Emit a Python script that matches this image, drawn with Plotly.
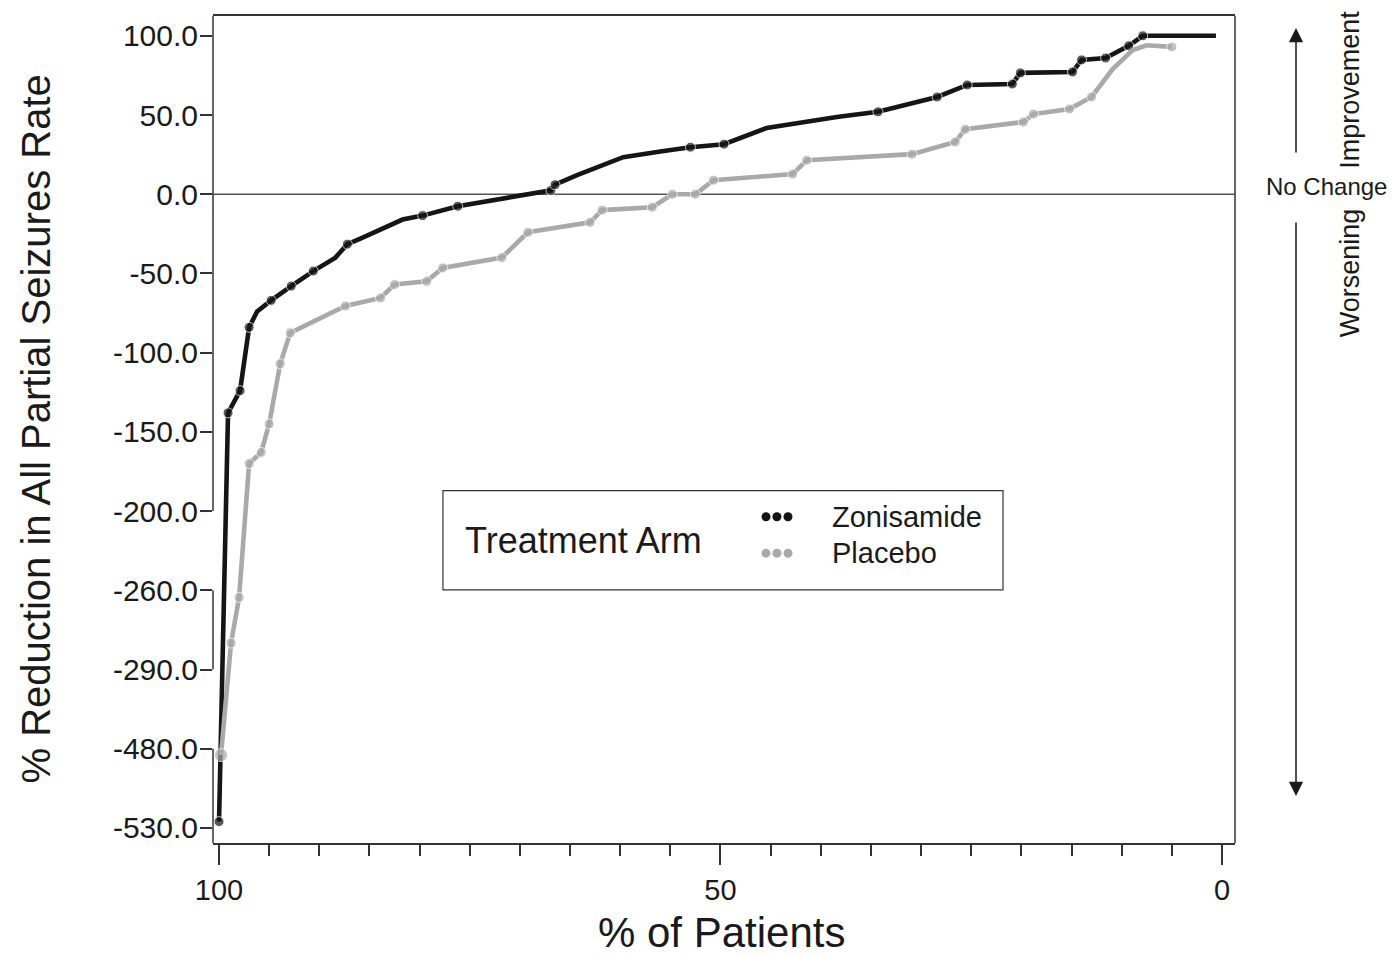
import numpy as np
import plotly.graph_objects as go

# ---------------- data ----------------
tick_values = [-530, -480, -290, -260, -200, -150, -100, -50, 0, 50, 100]
tick_labels = ["-530.0", "-480.0", "-290.0", "-260.0", "-200.0", "-150.0",
               "-100.0", "-50.0", "0.0", "50.0", "100.0"]

zon_x = [100, 99.1, 97.9, 97.0, 96.2, 94.8, 92.8, 90.6, 88.4, 87.2, 85.9, 81.7,
         79.7, 76.2, 66.9, 66.5, 64.3, 59.7, 56.0, 53.0, 49.65, 45.4, 38.4, 34.3,
         28.4, 25.4, 20.9, 20.1, 14.9, 14.0, 11.6, 9.3, 7.9, 0.6]
zon_y = [-526, -138, -124, -84, -74, -67, -58, -48.5, -40, -31.5, -28, -16,
         -13.5, -7.6, 2.5, 6, 12, 23.4, 27, 29.7, 31.6, 41.8, 48.7, 52,
         61.4, 69, 69.6, 76.6, 77.2, 84.8, 86, 93.7, 100, 100]
zon_marked = [1, 1, 1, 1, 0, 1, 1, 1, 0, 1, 0, 0, 1, 1, 1, 1, 0, 0, 0, 1, 1, 0, 0, 1,
              1, 1, 1, 1, 1, 1, 1, 1, 1, 0]

pl_x = [99.8, 98.8, 98.0, 97.0, 95.8, 95.0, 93.9, 92.9, 87.4, 83.9, 82.5, 79.3,
        77.7, 71.8, 69.2, 63.0, 61.8, 56.8, 54.8, 52.5, 50.7, 42.8, 41.4, 30.9,
        26.6, 25.6, 19.8, 18.8, 15.2, 13.0, 10.9, 8.9, 7.5, 5.0]
pl_y = [-484, -280, -262.7, -170, -163, -145, -107, -87.5, -70.5, -65.5, -57, -55,
        -46.5, -40, -24, -17.7, -10, -8.2, 0, 0, 8.9, 12.7, 21.5, 25.3,
        33, 41, 45.6, 50.6, 53.8, 61.4, 79, 91, 94, 93]
pl_marked = [1] * 30 + [0, 0, 0, 1]

series_names = ["Zonisamide", "Placebo"]
x_ticks = [100, 50, 0]

# ------------- broken-scale transform -------------
tick_pos = list(range(len(tick_values)))


def to_pos(v):
    return np.interp(np.asarray(v, dtype=float), tick_values, tick_pos)


FONT = "Liberation Sans, Arial, Helvetica, sans-serif"
BLACK = "#151515"
GRAY = "#a9a9a9"
AX = "#333333"
TXT = "#1a1a1a"

fig = go.Figure()

fig.add_trace(go.Scatter(
    x=zon_x, y=to_pos(zon_y), mode="lines+markers", name=series_names[0],
    line=dict(color=BLACK, width=4.6),
    marker=dict(color=BLACK, size=[10 if m else 0 for m in zon_marked]),
    showlegend=False, cliponaxis=False))
pl_sizes = [10 if m else 0 for m in pl_marked]
pl_sizes[0] = 13
fig.add_trace(go.Scatter(
    x=pl_x, y=to_pos(pl_y), mode="lines+markers", name=series_names[1],
    line=dict(color=GRAY, width=4.6),
    marker=dict(color=GRAY, size=pl_sizes),
    showlegend=False, cliponaxis=False))

y_lo, y_hi = -0.19, 10.25

fig.update_xaxes(
    range=[100.6, -1.3], tickmode="array", tickvals=x_ticks,
    ticktext=[str(v) for v in x_ticks],
    ticks="outside", ticklen=20, tickwidth=1.5, tickcolor=AX,
    minor=dict(dtick=5, tick0=0, ticks="outside", ticklen=11, tickwidth=1.5, tickcolor=AX),
    showline=True, mirror=True, linecolor=AX, linewidth=1.5,
    showgrid=False, zeroline=False,
    tickfont=dict(family=FONT, size=29, color=TXT),
    ticklabelstandoff=0,
)
fig.update_yaxes(
    range=[y_lo, y_hi], tickmode="array", tickvals=tick_pos, ticktext=tick_labels,
    ticks="outside", ticklen=12, tickwidth=1.5, tickcolor=AX,
    showline=False, showgrid=False, zeroline=False,
    tickfont=dict(family=FONT, size=30, color=TXT),
    ticklabelstandoff=-4,
)

shapes = []
# right frame
shapes.append(dict(type="line", xref="paper", yref="paper", x0=1, x1=1, y0=0, y1=1,
                   line=dict(color=AX, width=1.5)))
# broken left axis segments
for a, b in [(y_hi, to_pos(-200)), (to_pos(-260), to_pos(-290)), (to_pos(-480), y_lo)]:
    shapes.append(dict(type="line", xref="paper", yref="y", x0=0, x1=0, y0=float(a), y1=float(b),
                       line=dict(color=AX, width=1.5)))
# no-change line
shapes.append(dict(type="line", xref="paper", yref="y", x0=0, x1=1,
                   y0=float(to_pos(0)), y1=float(to_pos(0)),
                   line=dict(color="#555555", width=1.5), layer="below"))
# legend box
shapes.append(dict(type="rect", xref="paper", yref="paper", x0=0.225, x1=0.773,
                   y0=0.306, y1=0.426, line=dict(color=AX, width=1.2),
                   fillcolor="rgba(255,255,255,1)", layer="below"))
# legend dots
for yy, col in [(0.3945, BLACK), (0.3505, GRAY)]:
    for cx in [0.5411, 0.5518, 0.5626]:
        shapes.append(dict(type="circle", xref="paper", yref="paper",
                           xsizemode="pixel", ysizemode="pixel",
                           xanchor=cx, yanchor=yy, x0=-4.5, x1=4.5, y0=-4.5, y1=4.5,
                           fillcolor=col, line=dict(width=0)))
fig.update_layout(shapes=shapes)

ann = []
ann.append(dict(text="% Reduction in All Partial Seizures Rate", xref="paper", yref="paper",
                x=0, y=0.5, xshift=-178, textangle=-90, showarrow=False,
                xanchor="center", yanchor="middle",
                font=dict(family=FONT, size=40, color=TXT)))
ann.append(dict(text="% of Patients", xref="paper", yref="paper",
                x=0.498, y=0, yshift=-89, showarrow=False,
                xanchor="center", yanchor="middle",
                font=dict(family=FONT, size=42, color=TXT)))
ann.append(dict(text="Treatment Arm", xref="paper", yref="paper", x=0.2446, y=0.3655,
                xanchor="left", yanchor="middle", showarrow=False,
                font=dict(family=FONT, size=36, color=TXT)))
ann.append(dict(text=series_names[0], xref="paper", yref="paper", x=0.6037, y=0.3945,
                xanchor="left", yanchor="middle", showarrow=False,
                font=dict(family=FONT, size=29, color=TXT)))
ann.append(dict(text=series_names[1], xref="paper", yref="paper", x=0.6037, y=0.3505,
                xanchor="left", yanchor="middle", showarrow=False,
                font=dict(family=FONT, size=29, color=TXT)))
ann.append(dict(text="No Change", xref="paper", yref="paper", x=1.0895, y=0.7935,
                xanchor="center", yanchor="middle", showarrow=False,
                font=dict(family=FONT, size=24, color=TXT)))
ann.append(dict(text="Improvement", xref="paper", yref="paper", x=1.1125, y=0.9107,
                xanchor="center", yanchor="middle", showarrow=False, textangle=-90,
                font=dict(family=FONT, size=27, color=TXT)))
ann.append(dict(text="Worsening", xref="paper", yref="paper", x=1.1125, y=0.690,
                xanchor="center", yanchor="middle", showarrow=False, textangle=-90,
                font=dict(family=FONT, size=27, color=TXT)))
# arrows
ann.append(dict(text="", xref="paper", yref="paper", x=1.0597, y=0.9855,
                ax=0, ay=126, axref="pixel", ayref="pixel", showarrow=True,
                arrowhead=2, arrowsize=1.9, arrowwidth=1.5, arrowcolor=TXT))
ann.append(dict(text="", xref="paper", yref="paper", x=1.0597, y=0.0567,
                ax=0, ay=-575, axref="pixel", ayref="pixel", showarrow=True,
                arrowhead=2, arrowsize=1.9, arrowwidth=1.5, arrowcolor=TXT))
fig.update_layout(annotations=ann)

# the page adds an 8px body margin, so offsets are shifted by 8px
fig.update_layout(
    width=1398, height=956,
    margin=dict(l=205, r=171, t=6, b=121),
    paper_bgcolor="white", plot_bgcolor="white",
    font=dict(family=FONT),
    showlegend=False,
)

fig.write_html("out.html")
